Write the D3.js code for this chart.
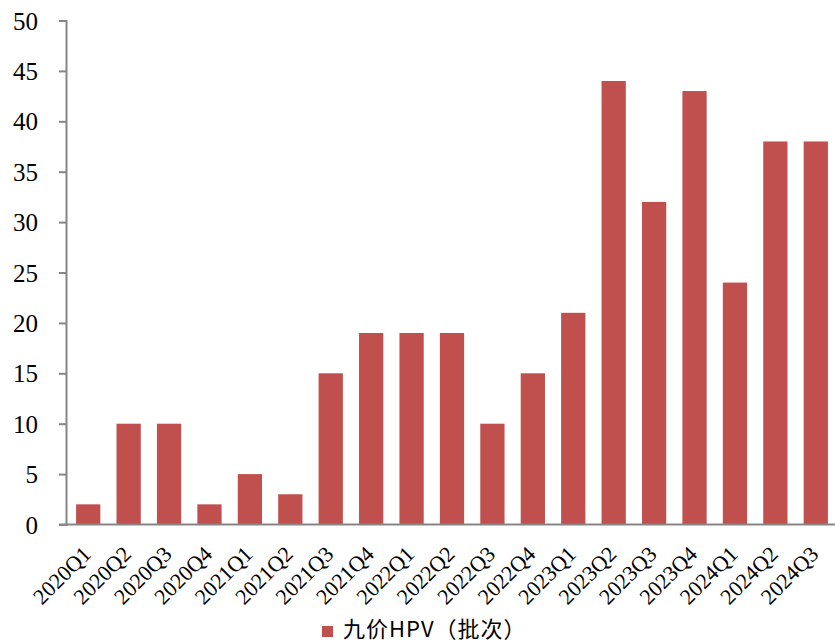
<!DOCTYPE html>
<html>
<head>
	<meta charset="UTF-8">
	<title>九价HPV（批次）</title>
	<script src="https://cdnjs.cloudflare.com/ajax/libs/d3/7.8.5/d3.min.js"></script>
	<style type="text/css">
		body { margin: 0; background: #fff; }
		.axis text { font-family: "Liberation Serif", "Times New Roman", serif; fill: #000; }
	</style>
</head>
<body>
	<svg id="chart" width="835" height="643" xmlns="http://www.w3.org/2000/svg"></svg>
	<script type="text/javascript">
		var quarters = ['2020Q1', '2020Q2', '2020Q3', '2020Q4', '2021Q1', '2021Q2', '2021Q3', '2021Q4',
			'2022Q1', '2022Q2', '2022Q3', '2022Q4', '2023Q1', '2023Q2', '2023Q3', '2023Q4',
			'2024Q1', '2024Q2', '2024Q3'];
		var batches = [2, 10, 10, 2, 5, 3, 15, 19, 19, 19, 10, 15, 21, 44, 32, 43, 24, 38, 38];
		var yTicks = [0, 5, 10, 15, 20, 25, 30, 35, 40, 45, 50];
		var seriesName = '九价HPV（批次）';

		var svg = d3.select('#chart');
		var axisColor = '#868686';
		var barColor = '#C0504D';

		var x = d3.scaleBand().domain(quarters).range([68, 836]).paddingInner(0.4).paddingOuter(0.2);
		var y = d3.scaleLinear().domain([0, 50]).range([524.5, 20.5]);

		// bars
		svg.selectAll('rect.bar').data(batches).enter().append('rect')
			.attr('class', 'bar')
			.attr('x', function (d, i) { return x(quarters[i]); })
			.attr('y', function (d) { return y(d); })
			.attr('width', x.bandwidth())
			.attr('height', function (d) { return y(0) - y(d); })
			.attr('fill', barColor);

		// y axis
		var yAxis = svg.append('g').attr('class', 'axis')
			.attr('transform', 'translate(66,0)')
			.call(d3.axisLeft(y).tickValues(yTicks).tickSize(7).tickPadding(21));
		yAxis.select('.domain').attr('stroke', axisColor).attr('stroke-width', 2);
		yAxis.selectAll('.tick line').attr('stroke', axisColor).attr('stroke-width', 2);
		yAxis.selectAll('text').style('font-size', '25px').attr('dy', '0.34em');

		// x axis
		var xAxis = svg.append('g').attr('class', 'axis')
			.attr('transform', 'translate(0,' + y(0) + ')')
			.call(d3.axisBottom(x).tickSize(0).tickSizeOuter(0));
		xAxis.select('.domain').remove();
		svg.append('line')
			.attr('x1', 59).attr('x2', 835)
			.attr('y1', y(0)).attr('y2', y(0))
			.attr('stroke', axisColor).attr('stroke-width', 2);
		xAxis.selectAll('text')
			.style('font-size', '22px')
			.attr('text-anchor', 'end')
			.attr('dy', null)
			.attr('y', 0)
			.attr('transform', 'translate(4,31) rotate(-45)');

		// legend
		var legend = svg.append('g').attr('transform', 'translate(322,626)');
		legend.append('rect').attr('width', 11).attr('height', 11).attr('fill', barColor);
		legend.append('text')
			.attr('x', 21).attr('y', 11)
			.style('font-family', '"Noto Sans CJK SC", sans-serif')
			.style('font-size', '22px')
			.style('letter-spacing', '1px')
			.text(seriesName);
	</script>
</body>
</html>
